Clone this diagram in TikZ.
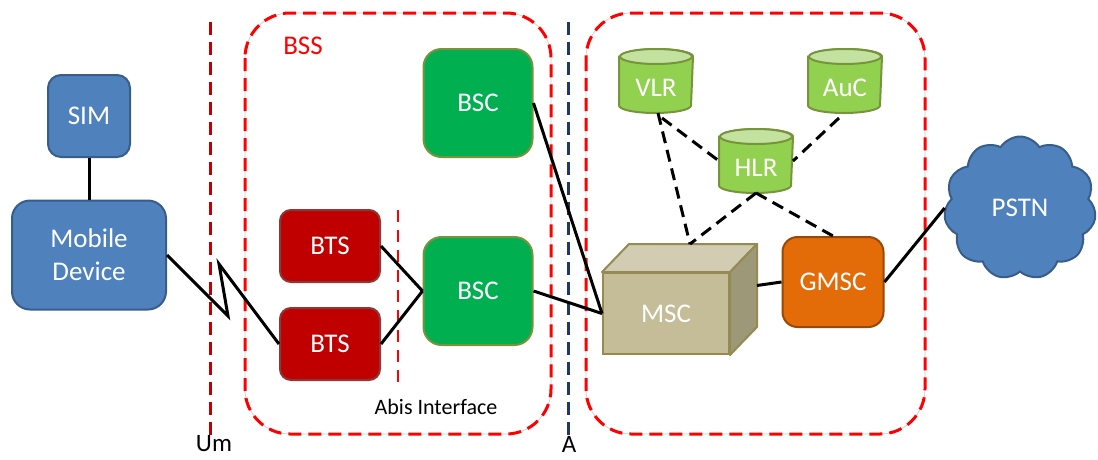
\documentclass[tikz,border=0pt]{standalone}
\usepackage{fontspec}
\setmainfont{Carlito}
\usetikzlibrary{shapes.symbols,backgrounds}

\definecolor{devblue}{HTML}{4F81BD}
\definecolor{devblueline}{HTML}{385D8A}
\definecolor{btsred}{HTML}{C00000}
\definecolor{btsline}{HTML}{8C3836}
\definecolor{bscgreen}{HTML}{00B050}
\definecolor{bscline}{HTML}{77933C}
\definecolor{drumgreen}{HTML}{92D050}
\definecolor{drumtop}{HTML}{C3E2A0}
\definecolor{drumline}{HTML}{77933C}
\definecolor{mscfront}{HTML}{C4BD97}
\definecolor{msctop}{HTML}{D2CDB2}
\definecolor{mscside}{HTML}{9D9878}
\definecolor{mscline}{HTML}{948A54}
\definecolor{gmscorange}{HTML}{E36C09}
\definecolor{gmscline}{HTML}{984807}
\definecolor{umred}{HTML}{C00000}
\definecolor{anavy}{HTML}{1F3864}

\tikzset{
  big/.style={font=\fontsize{27}{33}\selectfont},
  unit/.style={big, text=white, align=center, inner sep=0pt, line width=2pt},
  bluebox/.style={unit, draw=devblueline, fill=devblue},
  btsbox/.style={unit, draw=btsline, fill=btsred, rounded corners=11pt,
                 minimum width=100pt, minimum height=72pt},
  bscbox/.style={unit, draw=bscline, fill=bscgreen, rounded corners=18pt,
                 minimum width=109pt, minimum height=108pt},
  drumbox/.style={unit, minimum width=72pt, minimum height=62pt},
  link/.style={line width=3pt, black},
  softlink/.style={line width=3pt, black, dash pattern=on 12pt off 7pt},
  region/.style={red, line width=3pt, dash pattern=on 13pt off 7pt, rounded corners=45pt},
  regionrim/.style={gray!40, line width=0.7pt, rounded corners=45pt},
  iface/.style={line width=3pt, dash pattern=on 13pt off 7pt},
  ifacelabel/.style={font=\fontsize{25}{29}\selectfont, inner sep=0pt},
}

% database drum drawn behind a named node
\newcommand\drumshape[1]{%
  \begin{scope}[on background layer]
    \path[fill=drumgreen, draw=drumline, line width=2pt]
      ([yshift=-7.5pt]#1.north west) -- ([yshift=7.5pt]#1.south west)
      arc[start angle=180, end angle=360, x radius=36pt, y radius=7.5pt]
      -- ([yshift=-7.5pt]#1.north east)
      arc[start angle=0, end angle=180, x radius=36pt, y radius=7.5pt] -- cycle;
    \path[fill=drumtop, draw=drumline, line width=2pt]
      ([yshift=-7.5pt]#1.north) ellipse[x radius=36pt, y radius=7.5pt];
  \end{scope}}
% drum caption sits below the lid
\newcommand\drumtext[1]{\raisebox{-15pt}[0pt][0pt]{#1}}

\begin{document}
\begin{tikzpicture}[x=1pt, y=-1pt]
\useasboundingbox (0,0) rectangle (1098,459);

% subsystem outlines
\draw[regionrim] (245,13) rectangle (551,434);
\draw[region] (245,13) rectangle (551,434);
\draw[regionrim] (586,13) rectangle (925,434);
\draw[region] (586,13) rectangle (925,434);

% interface lines
\draw[iface, umred] (210,22) -- (210,436);
\draw[iface, anavy] (568,22) -- (568,436);
\draw[iface, red, line width=2.5pt, dash pattern=on 12pt off 8pt] (398,210) -- (398,388);

% labels
\node[font=\fontsize{27}{31}\selectfont, text=red] (bsslabel) at (303,46) {BSS};
\node[font=\fontsize{22}{26}\selectfont] (abislabel) at (436,407) {Abis Interface};
\node[ifacelabel] (umlabel) at (214,444) {Um};
\node[ifacelabel] (alabel) at (569,444) {A};

% mobile station
\node[bluebox, rounded corners=13pt, minimum width=82pt, minimum height=82pt] (sim) at (89,116) {SIM};
\node[bluebox, rounded corners=18pt, minimum width=154pt, minimum height=109pt] (md) at (89,255) {Mobile\\Device};

% base station subsystem
\node[btsbox] (bts1) at (330,246) {BTS};
\node[btsbox] (bts2) at (330,344) {BTS};
\node[bscbox] (bsc1) at (478,103) {BSC};
\node[bscbox] (bsc2) at (478,291) {BSC};

% network switching subsystem
\node[drumbox] (vlr) at (656,81) {\drumtext{VLR}};
\drumshape{vlr}
\node[drumbox] (auc) at (845,81) {\drumtext{AuC}};
\drumshape{auc}
\node[drumbox] (hlr) at (756,161) {\drumtext{HLR}};
\drumshape{hlr}

% switching centre as a box
\node[unit, draw=mscline, fill=mscfront, minimum width=126pt, minimum height=81pt] (msc) at (666,313.5) {MSC};
\path[fill=msctop, draw=mscline, line width=2pt, line join=round]
  (msc.north west) -- ([shift={(27,-28)}]msc.north west)
  -- ([shift={(27,-28)}]msc.north east) -- (msc.north east) -- cycle;
\path[fill=mscside, draw=mscline, line width=2pt, line join=round]
  (msc.north east) -- ([shift={(27,-28)}]msc.north east)
  -- ([shift={(27,-28)}]msc.south east) -- (msc.south east) -- cycle;
\coordinate (mscright) at ([shift={(27,-28)}]msc.east);
\coordinate (mscback) at ([shift={(24,-28)}]msc.north);

\node[unit, draw=gmscline, fill=gmscorange, rounded corners=15pt, minimum width=101pt, minimum height=90pt] (gmsc) at (833,282) {GMSC};

\node[unit, cloud, cloud puffs=11, cloud puff arc=115, aspect=1.05, draw=devblueline, fill=devblue,
      minimum width=152pt, minimum height=143pt] (pstn) at (1020,208) {PSTN};

% connections
\draw[link] (sim) -- (md);
\coordinate (z1) at (228,316);
\coordinate (z2) at (219,264);
\draw[link, line join=miter] (md.east) -- (z1) -- (z2) -- (bts2.west);
\draw[link] (bts1.east) -- (bsc2.west);
\draw[link] (bts2.east) -- (bsc2.west);
\draw[link] (bsc1.east) -- (msc.west);
\draw[link] (bsc2.east) -- (msc.west);
\draw[link] (mscright) -- (gmsc.west);
\draw[link] (gmsc.east) -- (pstn.west);

\draw[softlink] ([xshift=2pt]vlr.south) -- (mscback);
\draw[softlink] ([xshift=6pt,yshift=-5pt]vlr.south) -- (hlr.west);
\draw[softlink] ([xshift=-6pt,yshift=-5pt]auc.south) -- (hlr.east);
\draw[softlink] (hlr.south) -- (mscback);
\draw[softlink] (hlr.south) -- (gmsc.north);
\end{tikzpicture}
\end{document}
